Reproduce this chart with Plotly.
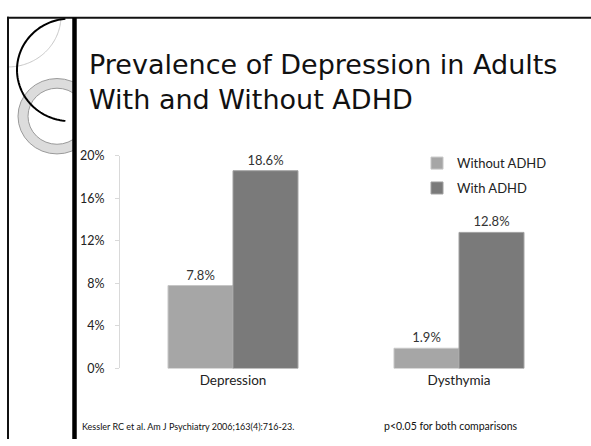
import numpy as np
import plotly.graph_objects as go

W, H = 591, 446

categories = ["Depression", "Dysthymia"]
without_adhd = [7.8, 1.9]
with_adhd = [18.6, 12.8]
series_names = ["Without ADHD", "With ADHD"]
tick_values = [0, 4, 8, 12, 16, 20]
tick_labels = ["0%", "4%", "8%", "12%", "16%", "20%"]

title_text = "Prevalence of Depression in Adults<br>With and Without ADHD"
source_text = "Kessler RC et al. Am J Psychiatry 2006;163(4):716-23."
note_text = "p<0.05 for both comparisons"


def px(x):
    return x / W


def py(y):
    return 1 - y / H


FONT = "Lato"
TITLE_FONT = "DejaVu Sans"

fig = go.Figure()
fig.add_trace(go.Bar(
    x=categories, y=without_adhd, name=series_names[0],
    marker=dict(color="#a6a6a6", line=dict(color="#c6c6c6", width=1)),
    text=[f"{v:.1f}%" for v in without_adhd], textposition="outside",
    textfont=dict(size=13, color="#333333", family=FONT),
    cliponaxis=False, legendgroup="a",
))
fig.add_trace(go.Bar(
    x=categories, y=with_adhd, name=series_names[1],
    marker=dict(color="#7a7a7a", line=dict(color="#a0a0a0", width=1)),
    text=[f"{v:.1f}%" for v in with_adhd], textposition="outside",
    textfont=dict(size=13, color="#333333", family=FONT),
    cliponaxis=False, legendgroup="b",
))

shapes = []


def circle(cx, cy, r, **kw):
    d = dict(type="circle", xref="paper", yref="paper",
             x0=px(cx - r), x1=px(cx + r), y0=py(cy + r), y1=py(cy - r),
             layer="below")
    d.update(kw)
    return d


def arc(cx, cy, r, a0, a1, n=60):
    # angles in degrees, screen coords (y down)
    t = np.radians(np.linspace(a0, a1, n))
    xs = cx + r * np.cos(t)
    ys = cy + r * np.sin(t)
    pts = [f"{px(x):.5f},{py(y):.5f}" for x, y in zip(xs, ys)]
    return "M " + " L ".join(pts)


def rect(x0, y0, x1, y1, color):
    return dict(type="rect", xref="paper", yref="paper", layer="below",
                x0=px(x0), x1=px(x1), y0=py(y1), y1=py(y0),
                fillcolor=color, line=dict(width=0))


# thin grey quarter arc in the top-left corner (inside the frame)
g_cx, g_cy, g_r = 8, 8, 53
a_start = np.degrees(np.arcsin((11 - g_cy) / g_r))
a_end = np.degrees(np.arccos((9 - g_cx) / g_r))
shapes.append(dict(type="path", xref="paper", yref="paper", layer="below",
                   path=arc(g_cx, g_cy, g_r, a_start, a_end),
                   line=dict(color="#c8c8c8", width=1)))
# grey ring
shapes.append(circle(57, 112, 39, fillcolor="#dcdcdc", line=dict(color="#9a9a9a", width=1)))
shapes.append(circle(57, 112, 29, fillcolor="#ffffff", line=dict(color="#9a9a9a", width=1)))
# black half circle
shapes.append(dict(type="path", xref="paper", yref="paper", layer="below",
                   path=arc(70, 64, 53, 265, 95, n=90),
                   line=dict(color="#000000", width=2)))
# white content panel
shapes.append(rect(76, 11, W, H, "#ffffff"))
# border lines
shapes.append(dict(type="line", xref="paper", yref="paper", layer="below",
                   x0=px(7), x1=px(W), y0=py(10), y1=py(10),
                   line=dict(color="#111111", width=2)))
shapes.append(dict(type="line", xref="paper", yref="paper", layer="below",
                   x0=px(8), x1=px(8), y0=py(9), y1=py(H),
                   line=dict(color="#111111", width=2)))
shapes.append(dict(type="line", xref="paper", yref="paper", layer="below",
                   x0=px(74.5), x1=px(74.5), y0=py(10), y1=py(H),
                   line=dict(color="#000000", width=4.5)))

annotations = [
    dict(text=title_text, xref="paper", yref="paper", x=px(87), y=py(40),
         xanchor="left", yanchor="top", align="left", showarrow=False,
         font=dict(family=TITLE_FONT, size=27, color="#111111")),
    dict(text=source_text, xref="paper", yref="paper", x=px(80), y=py(433),
         xanchor="left", yanchor="middle", showarrow=False,
         font=dict(family=FONT, size=9, color="#111111")),
    dict(text=note_text, xref="paper", yref="paper", x=px(382), y=py(433),
         xanchor="left", yanchor="middle", showarrow=False,
         font=dict(family=FONT, size=10.5, color="#111111")),
]

fig.update_layout(
    width=W, height=H, autosize=False,
    margin=dict(l=0, r=0, t=0, b=0, pad=0),
    paper_bgcolor="#ffffff", plot_bgcolor="rgba(0,0,0,0)",
    barmode="group", bargap=0.425, bargroupgap=0,
    shapes=shapes, annotations=annotations,
    showlegend=True,
    legend=dict(x=px(417), y=py(145), xanchor="left", yanchor="top",
                font=dict(family=FONT, size=13, color="#222222"),
                bgcolor="rgba(0,0,0,0)", tracegroupgap=5, itemwidth=30),
    xaxis=dict(domain=[px(120), px(572)], range=[-0.5, 1.5],
               showline=False, showgrid=False, ticks="",
               tickfont=dict(family=FONT, size=13.5, color="#222222"),
               ticklabelstandoff=2),
    yaxis=dict(domain=[py(373), py(153)], range=[0, 20],
               tickvals=tick_values, ticktext=tick_labels,
               showline=True, linecolor="#d9d9d9", linewidth=1,
               ticks="outside", ticklen=4, tickcolor="#d9d9d9",
               showgrid=False, zeroline=False,
               tickfont=dict(family=FONT, size=12.5, color="#222222"),
               ticklabelstandoff=8),
)

fig.write_html("out.html")
